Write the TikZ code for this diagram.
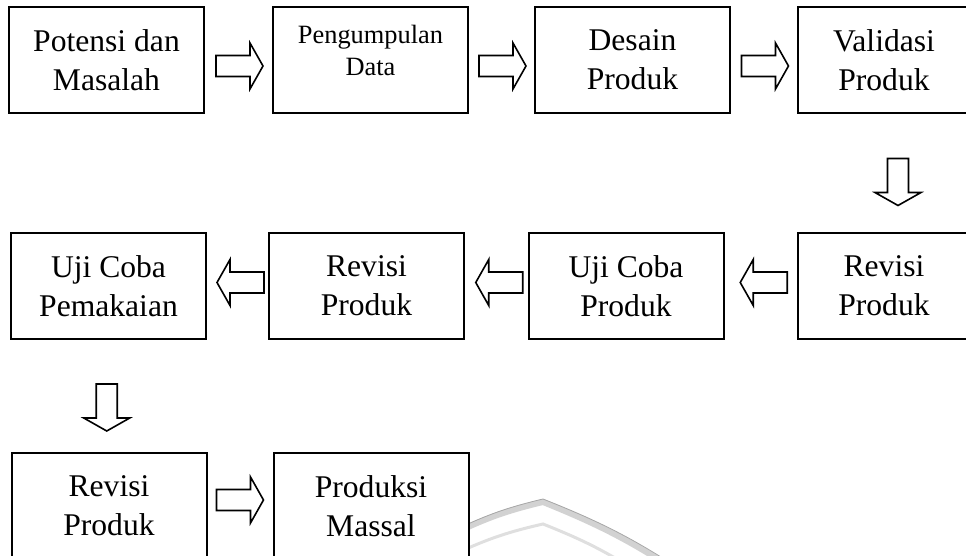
\documentclass[tikz,border=0pt]{standalone}
\usepackage{fontspec}
\setmainfont{Liberation Serif}
\usetikzlibrary{calc}

\newcommand\boxfont{\fontsize{15.8}{19.5}\selectfont}
\newcommand\smallboxfont{\fontsize{13.2}{16}\selectfont}
% hollow block arrow half way between two anchors, #4 = direction
\newcommand\fatarrow[4][0,0]{%
  \draw[fatarrowline, shift={($(#2)!.5!(#3)+(#1)$)}, rotate=#4]
    (-23.5,-10.5) -- (10.5,-10.5) -- (10.5,-23) -- (23.5,0)
    -- (10.5,23) -- (10.5,10.5) -- (-23.5,10.5) -- cycle;}

\tikzset{
  procbox/.style={draw, line width=1pt, fill=white, align=center,
    inner sep=0pt, minimum width=97.5pt, minimum height=53pt, font=\boxfont},
  narrowbox/.style={procbox, minimum width=86pt},
  fatarrowline/.style={draw, line width=0.8pt, fill=white, line join=miter},
}

\begin{document}
\begin{tikzpicture}[x=0.5pt,y=0.5pt]
  \clip (0,0) rectangle (966,-556);
  % faint watermark
  \draw[gray!35, line width=3pt] (455,-533) to[bend left=6] (543,-502)
    to[bend left=6] (690,-580);
  \draw[gray!70, line width=0.4pt] (455,-530) to[bend left=6] (543,-499)
    to[bend left=6] (692,-577);
  \draw[gray!25, line width=1.5pt] (455,-554) to[bend left=6] (543,-524)
    to[bend left=6] (650,-580);

  % row 1
  \node[procbox] (pot) at (106.5,-60) {Potensi dan\\Masalah};
  \node[procbox, font=\smallboxfont, text depth=10pt] (data) at (370.5,-60)
    {Pengumpulan\\Data};
  \node[procbox] (des) at (632.5,-60) {Desain\\Produk};
  \node[narrowbox] (val) at (884,-60) {Validasi\\Produk};
  % row 2
  \node[narrowbox] (revA) at (884,-286) {Revisi\\Produk};
  \node[procbox] (ujiprod) at (626,-286) {Uji Coba\\Produk};
  \node[procbox] (revB) at (366.5,-286) {Revisi\\Produk};
  \node[procbox] (ujipakai) at (108.5,-286) {Uji Coba\\Pemakaian};
  % row 3
  \node[procbox] (revC) at (109,-506) {Revisi\\Produk};
  \node[procbox] (massal) at (371,-506) {Produksi\\Massal};

  \foreach \a/\b in {pot/data, data/des, des/val}
    \fatarrow[1,-6]{\a.east}{\b.west}{0};
  \fatarrow[14,-9]{val.south}{revA.north}{-90};
  \foreach \a/\b in {revA/ujiprod, ujiprod/revB, revB/ujipakai}
    \fatarrow[3,3.5]{\a.west}{\b.east}{180};
  \fatarrow[-2,-11.5]{ujipakai.south}{revC.north}{-90};
  \fatarrow[0,6]{revC.east}{massal.west}{0};
\end{tikzpicture}
\end{document}
